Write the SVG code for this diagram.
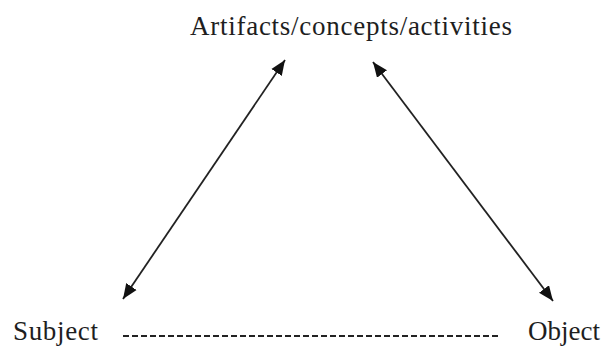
<svg xmlns="http://www.w3.org/2000/svg" width="605" height="346" viewBox="0 0 605 346">
<style>
text{font-family:"Liberation Serif","Times New Roman",serif;fill:#1e1e1e;}
.lbl{font-size:27px;}
.conn{stroke:#222;stroke-width:1.8;fill:none;}
.dash{stroke:#222;stroke-width:2.2;stroke-dasharray:6 3;fill:none;}
</style>
<defs>
<marker id="ah" viewBox="0 0 12 10" refX="12" refY="5" markerWidth="15" markerHeight="13" markerUnits="userSpaceOnUse" orient="auto-start-reverse">
<path d="M0,0 L12,5 L0,10 Z" fill="#111"/>
</marker>
</defs>
<rect width="605" height="346" fill="#fff"/>
<g id="connectors">
<line class="conn" x1="123" y1="299" x2="285" y2="60" marker-start="url(#ah)" marker-end="url(#ah)"/>
<line class="conn" x1="373" y1="62" x2="553" y2="301" marker-start="url(#ah)" marker-end="url(#ah)"/>
<line class="dash" x1="123" y1="336" x2="500" y2="336"/>
</g>
<g id="artifacts"><text class="lbl" x="190" y="35" textLength="322" lengthAdjust="spacing">Artifacts/concepts/activities</text></g>
<g id="subject"><text class="lbl" x="13" y="340" textLength="85" lengthAdjust="spacing">Subject</text></g>
<g id="object"><text class="lbl" x="528" y="340">Object</text></g>
</svg>
